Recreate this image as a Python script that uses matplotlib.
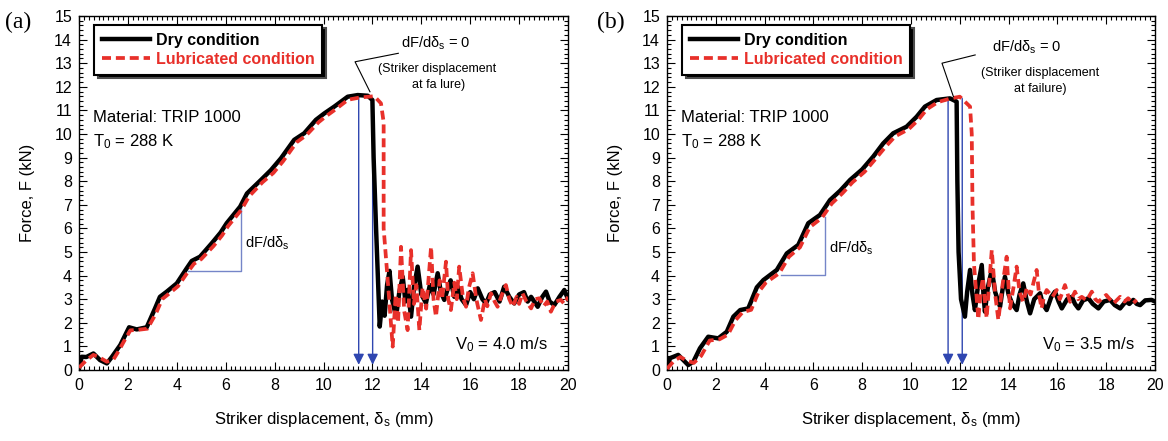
import matplotlib
matplotlib.use("Agg")
import matplotlib.pyplot as plt
from matplotlib.ticker import MultipleLocator

plt.rcParams['font.family'] = ['Liberation Sans', 'DejaVu Sans']
plt.rcParams['mathtext.default'] = 'regular'

# ---------------- data ----------------
a_dry_x = [0, 0.11, 0.3, 0.59, 0.86, 1.14, 1.35, 1.69, 1.9, 2.05, 2.36, 2.77, 3.11, 3.31, 3.59,
           4.0, 4.4, 4.61, 4.95, 5.43, 5.79, 6.04, 6.59, 6.87, 7.44, 7.85, 8.26, 8.8, 9.21, 9.69,
           10.03, 10.44, 10.99, 11.4, 11.81, 12.0, 12.05, 12.15, 12.3,
           12.4, 12.5, 12.6, 12.7, 12.8, 12.97, 13.1, 13.24, 13.35, 13.45, 13.58, 13.7, 13.85, 14.0,
           14.19, 14.35, 14.5, 14.67, 14.8, 14.94, 15.1, 15.2, 15.35, 15.49, 15.65, 15.83, 16.0,
           16.15, 16.31, 16.5, 16.65, 16.8, 17.0, 17.2, 17.39, 17.6, 17.8, 18.0, 18.2, 18.35, 18.49,
           18.76, 18.95, 19.1, 19.25, 19.44, 19.65, 19.85, 20.0]
a_dry_f = [0.05, 0.56, 0.55, 0.7, 0.42, 0.28, 0.56, 1.06, 1.5, 1.81, 1.72, 1.81, 2.61, 3.1, 3.32,
           3.67, 4.3, 4.62, 4.8, 5.37, 5.82, 6.22, 6.92, 7.48, 8.05, 8.47, 8.97, 9.75, 10.03, 10.6,
           10.87, 11.16, 11.58, 11.65, 11.62, 11.44, 9.0, 6.0, 1.84,
           2.9, 2.3, 3.6, 4.2, 3.0, 2.26, 3.3, 3.95, 2.9, 3.4, 2.26, 3.5, 4.38, 3.2,
           2.84, 3.6, 3.2, 4.1, 3.3, 2.97, 3.5, 3.8, 3.1, 3.53, 3.0, 2.75, 3.3,
           3.0, 3.46, 3.0, 2.82, 3.2, 3.3, 2.9, 3.53, 3.1, 2.82, 3.2, 3.3, 2.9, 3.1,
           2.68, 3.1, 3.32, 2.9, 2.75, 3.1, 3.39, 3.0]

a_lub_x = [0, 0.31, 0.59, 0.79, 1.14, 1.41, 1.62, 1.83, 2.1, 2.4, 2.8, 3.15, 3.4, 3.7, 4.05,
           4.45, 4.7, 5.0, 5.5, 5.85, 6.1, 6.65, 6.95, 7.5, 7.95, 8.35, 8.9, 9.3, 9.8, 10.1,
           10.5, 11.0, 11.5, 12.08, 12.35, 12.46, 12.46, 12.65,
           12.83, 12.95, 13.05, 13.17, 13.3, 13.44, 13.58, 13.7, 13.8, 13.92, 14.05, 14.2, 14.4,
           14.5, 14.6, 14.75, 14.85, 15.01, 15.1, 15.21, 15.35, 15.45, 15.55, 15.7, 15.83, 15.95,
           16.1, 16.25, 16.44, 16.6, 16.7, 16.85, 17.0, 17.12, 17.3, 17.46, 17.6, 17.74, 17.9,
           18.0, 18.14, 18.3, 18.49, 18.65, 18.83, 19.0, 19.15, 19.3, 19.5, 19.71, 19.85, 20.0]
a_lub_f = [0.1, 0.42, 0.64, 0.56, 0.35, 0.45, 0.8, 1.2, 1.68, 1.7, 1.75, 2.4, 3.0, 3.25, 3.55,
           4.15, 4.5, 4.7, 5.25, 5.7, 6.1, 6.8, 7.35, 7.95, 8.35, 8.85, 9.65, 9.95, 10.5, 10.75,
           11.05, 11.45, 11.55, 11.6, 11.3, 10.5, 6.0, 3.5,
           0.99, 3.2, 2.0, 5.22, 2.5, 1.69, 5.08, 2.8, 3.6, 1.69, 3.5, 2.6, 5.22,
           3.0, 2.26, 3.8, 3.0, 4.59, 3.0, 2.54, 3.7, 3.0, 4.38, 3.1, 2.68, 3.5,
           4.1, 3.0, 2.12, 3.0, 2.7, 3.25, 2.9, 2.68, 3.2, 3.6, 3.0, 2.68, 3.1,
           2.8, 3.25, 2.9, 2.61, 3.0, 3.04, 2.7, 2.9, 2.47, 2.9, 2.97, 2.8, 3.1]

b_dry_x = [0, 0.12, 0.46, 0.67, 0.87, 1.08, 1.35, 1.69, 2.1, 2.45, 2.72, 3.0, 3.33, 3.68, 3.95,
           4.5, 4.91, 5.38, 5.79, 6.27, 6.68, 7.1, 7.5, 8.0, 8.45, 8.86, 9.27, 9.82, 10.23, 10.57,
           11.05, 11.6, 11.87, 11.9, 11.95, 12.05, 12.21,
           12.3, 12.42, 12.52, 12.62, 12.75, 12.9, 12.97, 13.03, 13.15, 13.31, 13.45, 13.65, 13.75,
           13.85, 14.0, 14.15, 14.33, 14.45, 14.6, 14.75, 14.88, 15.05, 15.29, 15.4, 15.56, 15.75,
           15.9, 16.05, 16.18, 16.4, 16.59, 16.72, 16.86, 17.05, 17.27, 17.45, 17.68, 17.9, 18.16,
           18.35, 18.57, 18.8, 18.95, 19.11, 19.25, 19.39, 19.6, 19.86, 20.0]
b_dry_f = [0.0, 0.5, 0.64, 0.42, 0.21, 0.35, 0.92, 1.41, 1.34, 1.62, 2.26, 2.54, 2.61, 3.5, 3.81,
           4.24, 4.94, 5.3, 6.22, 6.57, 7.2, 7.6, 8.05, 8.5, 9.04, 9.6, 10.03, 10.31, 10.73, 11.16,
           11.44, 11.51, 11.37, 8.0, 5.0, 3.0, 2.26,
           3.3, 4.24, 3.2, 2.54, 3.6, 4.45, 3.2, 2.47, 3.5, 4.24, 3.3, 2.68, 3.4,
           3.95, 3.2, 2.8, 2.54, 3.2, 3.67, 2.9, 2.4, 3.0, 3.25, 2.8, 2.54, 3.1,
           3.32, 2.9, 2.61, 3.0, 3.1, 2.8, 2.61, 2.95, 3.04, 2.8, 2.61, 2.9, 2.97,
           2.75, 2.61, 2.9, 2.8, 2.97, 2.8, 2.75, 2.95, 2.97, 2.9]

b_lub_x = [0, 0.3, 0.55, 0.8, 1.1, 1.4, 1.75, 2.15, 2.5, 2.8, 3.1, 3.45, 3.75, 4.05, 4.6,
           5.0, 5.45, 5.85, 6.35, 6.75, 7.2, 7.6, 8.1, 8.55, 8.95, 9.35, 9.9, 10.3, 10.65, 11.1,
           11.6, 12.0, 12.42, 12.49, 12.52, 12.58,
           12.76, 12.85, 12.95, 13.02, 13.1, 13.2, 13.31, 13.45, 13.58, 13.75, 13.92, 14.0, 14.06,
           14.2, 14.33, 14.45, 14.6, 14.75, 14.9, 15.15, 15.25, 15.35, 15.45, 15.56, 15.8, 15.97,
           16.1, 16.31, 16.52, 16.72, 16.85, 17.0, 17.2, 17.41, 17.55, 17.68, 18.0, 18.15, 18.3,
           18.57, 18.75, 18.9, 19.1, 19.25]
b_lub_f = [0.05, 0.4, 0.55, 0.4, 0.3, 0.6, 1.25, 1.3, 1.5, 2.1, 2.45, 2.55, 3.3, 3.7, 4.1,
           4.8, 5.2, 6.05, 6.45, 7.05, 7.5, 7.95, 8.4, 8.95, 9.45, 9.9, 10.2, 10.6, 11.05, 11.35,
           11.5, 11.58, 11.16, 10.0, 7.0, 4.5,
           2.15, 3.3, 3.9, 3.0, 2.2, 3.6, 5.08, 3.2, 2.12, 3.6, 4.8, 3.5, 2.61,
           3.5, 4.38, 3.3, 2.89, 3.5, 3.2, 4.24, 3.2, 2.61, 3.1, 3.39, 3.1, 3.39,
           3.0, 3.6, 2.89, 3.32, 3.0, 3.1, 2.95, 3.32, 3.0, 2.89, 3.18, 3.0, 2.82,
           3.1, 2.9, 3.04, 2.82, 2.97]

a_arrows_x = [11.44, 12.01]
a_arrows_top = [11.62, 11.44]
b_arrows_x = [11.52, 12.1]
b_arrows_top = [11.51, 11.5]

panel_labels = ['(a)', '(b)']
velocity_labels = ['V$_0$ = 4.0 m/s', 'V$_0$ = 3.5 m/s']
failure_labels = ['at fa lure)', 'at failure)']
legend_labels = ['Dry condition', 'Lubricated condition']

BLUE = '#2f46b0'
TRI = '#7585c8'
RED = '#e8302a'

fig = plt.figure(figsize=(11.68, 4.41), dpi=100)
ax_a = fig.add_axes([79 / 1168, 71 / 441, 489 / 1168, 354 / 441])
ax_b = fig.add_axes([667 / 1168, 71 / 441, 488 / 1168, 354 / 441])

panels = [
    dict(ax=ax_a, dx=a_dry_x, df=a_dry_f, lx=a_lub_x, lf=a_lub_f, arx=a_arrows_x, art=a_arrows_top,
         lead=[(11.9, 11.79), (11.29, 13.06), (13.06, 13.42)],
         t0=(14.6, 13.86), t1=(14.66, 12.75), t2=(14.7, 12.08),
         tri=[(4.47, 4.21), (6.61, 4.21), (6.61, 6.85)], tritext=(6.79, 5.38)),
    dict(ax=ax_b, dx=b_dry_x, df=b_dry_f, lx=b_lub_x, lf=b_lub_f, arx=b_arrows_x, art=b_arrows_top,
         lead=[(11.74, 11.58), (11.27, 13.0), (12.63, 13.35)],
         t0=(14.75, 13.69), t1=(15.3, 12.58), t2=(15.3, 11.9),
         tri=[(4.66, 4.03), (6.48, 4.03), (6.48, 6.5)], tritext=(6.64, 5.17)),
]

for i, p in enumerate(panels):
    ax = p['ax']
    ax.plot(p['dx'], p['df'], color='black', lw=3.2, solid_joinstyle='round', label=legend_labels[0], zorder=3)
    ax.plot(p['lx'], p['lf'], color=RED, lw=2.7, dashes=(2.4, 1.3), label=legend_labels[1], zorder=4)

    # failure arrows
    for xa, ta in zip(p['arx'], p['art']):
        ax.annotate('', xy=(xa, 0.22), xytext=(xa, ta),
                    arrowprops=dict(arrowstyle='-|>', color=BLUE, lw=1.0, mutation_scale=16,
                                    shrinkA=0, shrinkB=0), zorder=2)

    # slope triangle
    tx = [pt[0] for pt in p['tri']]
    ty = [pt[1] for pt in p['tri']]
    ax.plot(tx, ty, color=TRI, lw=1.0, zorder=2)
    ax.text(p['tritext'][0], p['tritext'][1], 'dF/dδ$_s$', fontsize=10.5, va='center', ha='left')

    # leader line
    ax.plot([q[0] for q in p['lead']], [q[1] for q in p['lead']], color='black', lw=0.8, zorder=5)
    ax.text(p['t0'][0], p['t0'][1], 'dF/dδ$_s$ = 0', fontsize=10.5, ha='center', va='center')
    ax.text(p['t1'][0], p['t1'][1], '(Striker displacement', fontsize=9, ha='center', va='center')
    ax.text(p['t2'][0], p['t2'][1], failure_labels[i], fontsize=9, ha='center', va='center')

    ax.text(0.57, 10.72, 'Material: TRIP 1000', fontsize=12, ha='left', va='center')
    ax.text(0.57, 9.66, 'T$_0$ = 288 K', fontsize=12, ha='left', va='center')
    ax.text(19.18, 1.06, velocity_labels[i], fontsize=12, ha='right', va='center')

    ax.set_xlim(0, 20)
    ax.set_ylim(0, 15)
    ax.xaxis.set_major_locator(MultipleLocator(2))
    ax.xaxis.set_minor_locator(MultipleLocator(0.2))
    ax.yaxis.set_major_locator(MultipleLocator(1))
    ax.yaxis.set_minor_locator(MultipleLocator(0.2))
    ax.tick_params(which='both', direction='in', top=True, right=True, width=0.8)
    ax.tick_params(which='major', length=6, labelsize=11.5)
    ax.tick_params(which='minor', length=3)
    ax.tick_params(axis='x', pad=6)
    ax.tick_params(axis='y', pad=5)
    for s in ax.spines.values():
        s.set_linewidth(1.0)
    ax.set_xlabel('Striker displacement, δ$_s$ (mm)', fontsize=12, labelpad=12)
    ax.set_ylabel('Force, F (kN)', fontsize=12, labelpad=14)

    leg = ax.legend(loc='upper left', bbox_to_anchor=(0.031, 0.975), fancybox=False,
                    shadow={'ox': 2.5, 'oy': -2.5, 'facecolor': 'black', 'alpha': 1},
                    edgecolor='black', framealpha=1, handlelength=3.0, handletextpad=0.35,
                    labelspacing=0.25, borderpad=0.5, borderaxespad=0,
                    prop={'weight': 'bold', 'size': 11.5})
    leg.get_frame().set_linewidth(1.5)
    leg.get_texts()[1].set_color(RED)
    leg.set_zorder(10)

fig.text(5 / 1168, 1 - 22 / 441, panel_labels[0], fontsize=17, family='Liberation Serif', va='center', ha='left')
fig.text(597 / 1168, 1 - 22 / 441, panel_labels[1], fontsize=17, family='Liberation Serif', va='center', ha='left')

fig.savefig('out.png', dpi=100)
